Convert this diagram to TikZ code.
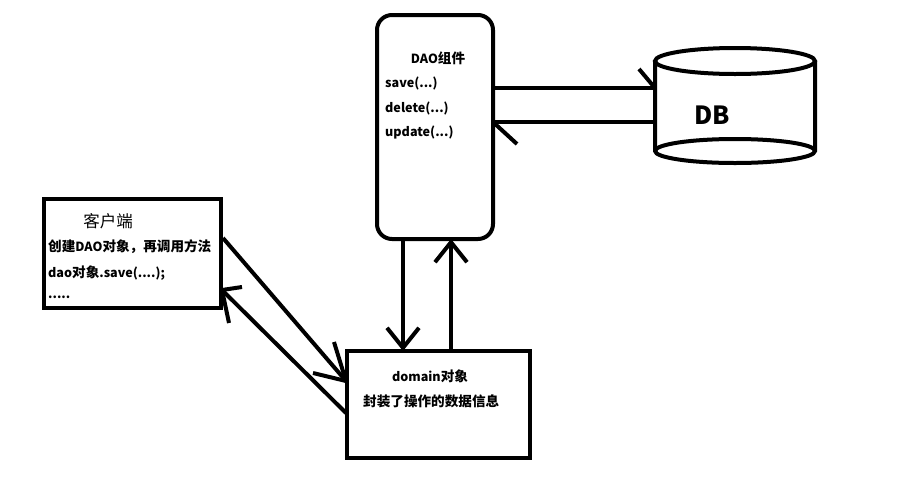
\documentclass[tikz,border=0pt]{standalone}
\usepackage{fontspec}
\setmainfont{Noto Sans CJK SC}
\usetikzlibrary{arrows.meta}
\newcommand\zhw[1]{{\fontsize{13.6}{15}\selectfont #1}}
\tikzset{
  box/.style={draw, line width=4pt, inner sep=0pt, outer sep=0pt},
  txt/.style={inner sep=0pt, font=\fontsize{12.6}{14}\selectfont\bfseries},
  lbl/.style={txt, anchor=west},
  conn/.style={line width=4pt},
  vhead/.style={-{Straight Barb[length=20pt,width=32pt,line width=4pt]}},
}
\begin{document}
\begin{tikzpicture}[x=1pt,y=-1pt]
\useasboundingbox (0,0) rectangle (913,496);
% boxes
\node[box, rounded corners=15pt, minimum width=116pt, minimum height=224pt] (dao) at (435,127) {};
\node[box, minimum width=177pt, minimum height=109pt] (client) at (132.5,253.5) {};
\node[box, minimum width=183pt, minimum height=107pt] (domain) at (438.5,404.5) {};
% DB cylinder
\draw[line width=4pt] (655,61) -- (655,151) arc[start angle=180,end angle=360,x radius=80pt,y radius=12pt] -- (815,61);
\draw[line width=4pt] (735,61) ellipse[x radius=80pt,y radius=13pt];
\draw[line width=4pt] (655,151) arc[start angle=180,end angle=0,x radius=80pt,y radius=12pt];
\node[inner sep=0pt, font=\fontsize{25}{28}\selectfont\bfseries] (db) at (712,115) {DB};
\coordinate (dbin) at (655,88);
\coordinate (dbout) at (655,122);
% texts
\node[txt] (daot) at (438,58) {DAO\zhw{组件}};
\node[lbl] (s1) at (385,83) {save(...)};
\node[lbl] (s2) at (385,108) {delete(...)};
\node[lbl] (s3) at (385,133) {update(...)};
\node[inner sep=0pt, font=\fontsize{16.5}{18}\selectfont] (clt) at (108,221) {客户端};
\node[lbl] (c1) at (48,247) {\zhw{创建}DAO\zhw{对象，再调用方法}};
\node[lbl] (c2) at (48,273) {dao\zhw{对象}.save(....);};
\node[lbl] (c3) at (48,297) {.....};
\node[txt] (dmt) at (430,376) {domain\zhw{对象}};
\node[lbl] (d1) at (363,401) {\zhw{封装了操作的数据信息}};
% DAO <-> DB
\draw[conn] (dao.east |- dbin) -- (dbin);
\draw[conn] (dbin) -- ++(-16,-19);
\draw[conn] (dbout) -- (dao.east |- dbout);
\draw[conn] (dao.east |- dbout) -- ++(24,22);
% DAO <-> domain
\draw[conn, vhead] (dao.south -| 403,0) -- (domain.north -| 403,0);
\draw[conn, vhead] (domain.north -| 451,0) -- (dao.south -| 451,0);
% client <-> domain
\coordinate (ca) at (223,238);
\coordinate (da) at (346,381);
\draw[conn] (ca) -- (da);
\draw[conn] (da) -- (334,342);
\draw[conn] (da) -- (313,373);
\coordinate (db2) at (346,413);
\coordinate (cb) at (222,290);
\draw[conn] (db2) -- (cb);
\draw[conn] (cb) -- (242,287);
\draw[conn] (cb) -- (229,323);
\end{tikzpicture}
\end{document}
